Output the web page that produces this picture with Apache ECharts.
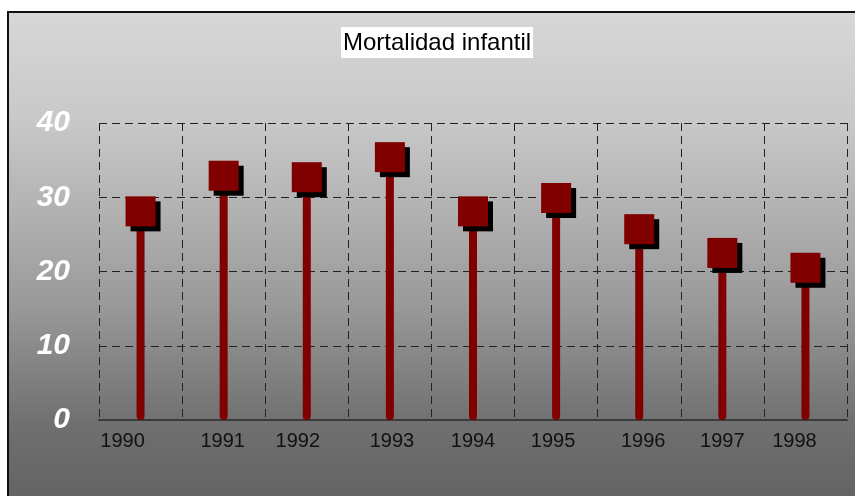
<!DOCTYPE html>
<html>
<head>
<meta charset="utf-8">
<script src="https://cdn.jsdelivr.net/npm/echarts@6/dist/echarts.min.js"></script>
<style>
  html, body { margin: 0; padding: 0; background: #fff; overflow: hidden; width: 855px; height: 496px; }
  #box {
    position: absolute; left: 7px; top: 11px; width: 900px; height: 520px;
    box-sizing: border-box; border-left: 2px solid #111; border-top: 2px solid #111;
    background: linear-gradient(to bottom, #d7d7d7 0px, #c8c8c8 110px, #9a9a9a 290px, #707070 410px, #636363 485px, #626262 520px);
  }
  #main { position: absolute; left: 0; top: 0; width: 855px; height: 496px; }
</style>
</head>
<body>
<div id="box"></div>
<div id="main"></div>
<script>
// datos
let years = ['1990', '1991', '1992', '1993', '1994', '1995', '1996', '1997', '1998'];
let mortalidad = [28.1, 32.9, 32.7, 35.4, 28.1, 29.9, 25.7, 22.5, 20.5];
let yTicks = [0, 10, 20, 30, 40];

// desplazamiento horizontal de cada etiqueta (px), como en el original
let labelShift = [-18, -1, -9, 2, 0, -3, 4, 0, -11];

var rich = {};
labelShift.forEach(function (d, i) {
  rich['o' + i] = {
    fontFamily: '"Liberation Sans", Arial, sans-serif',
    fontSize: 20,
    color: '#111',
    padding: d < 0 ? [0, -2 * d, 0, 0] : [0, 0, 0, 2 * d]
  };
});

var myChart = echarts.init(document.getElementById('main'));

var option = {
  backgroundColor: 'transparent',
  animation: false,
  title: {
    text: 'Mortalidad infantil',
    left: 341,
    top: 27,
    backgroundColor: '#fff',
    padding: [4, 2, 3, 2],
    textStyle: {
      fontFamily: '"Liberation Sans", Arial, sans-serif',
      fontSize: 24,
      fontWeight: 'normal',
      color: '#000'
    }
  },
  grid: { left: 99, right: 8, top: 123, bottom: 76 },
  xAxis: {
    type: 'category',
    data: years,
    axisTick: { show: false },
    axisLine: { lineStyle: { color: '#3a3a3a', width: 2 } },
    axisLabel: {
      margin: 11,
      formatter: function (v, i) { return '{o' + i + '|' + v + '}'; },
      rich: rich
    },
    splitLine: { show: true, lineStyle: { color: '#222', type: [8, 5], width: 1 } }
  },
  yAxis: {
    type: 'value',
    min: yTicks[0],
    max: yTicks[yTicks.length - 1],
    interval: 10,
    axisLine: { show: false },
    axisTick: { show: false },
    axisLabel: {
      margin: 29,
      color: '#fff',
      fontFamily: '"Liberation Sans", Arial, sans-serif',
      fontSize: 30,
      fontWeight: 'bold',
      fontStyle: 'italic'
    },
    splitLine: { lineStyle: { color: '#222', type: [8, 5], width: 1 } }
  },
  series: [
    {
      // sombra de los marcadores
      type: 'scatter',
      data: mortalidad,
      symbol: 'rect',
      symbolSize: 30,
      symbolOffset: [5, 5],
      itemStyle: { color: '#000', opacity: 1 },
      silent: true
    },
    {
      type: 'bar',
      data: mortalidad,
      barWidth: 8,
      itemStyle: { color: '#800000', borderRadius: [0, 0, 4, 4] }
    },
    {
      type: 'scatter',
      data: mortalidad,
      symbol: 'rect',
      symbolSize: 30,
      itemStyle: { color: '#800000', opacity: 1 }
    }
  ]
};

myChart.setOption(option);
</script>
</body>
</html>
